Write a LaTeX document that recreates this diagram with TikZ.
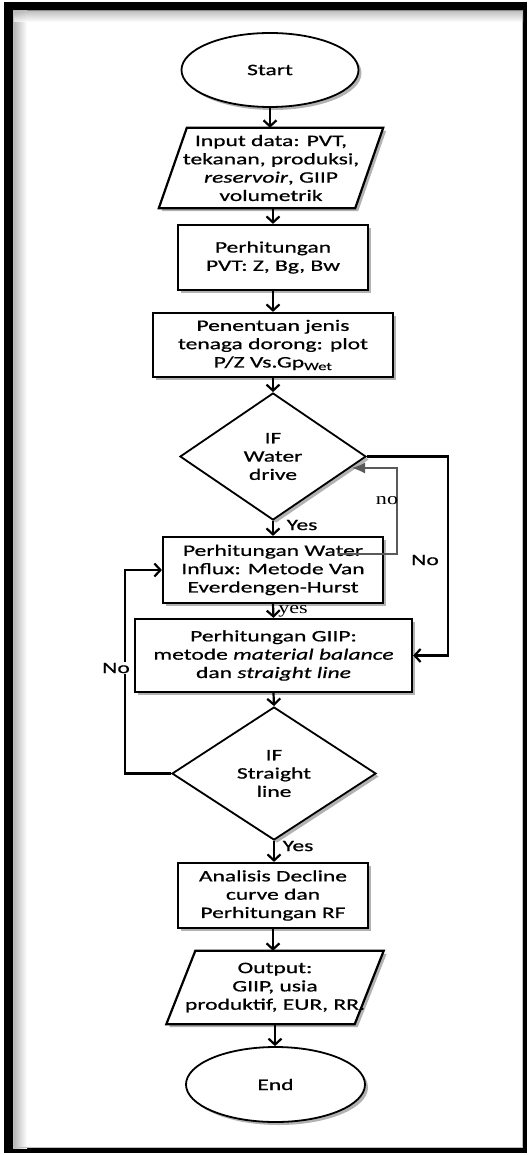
\documentclass[tikz,border=0pt]{standalone}
\usepackage{fontspec}
\setmainfont{Carlito}[FakeStretch=1.47,FakeBold=0.7]
\newfontfamily\serifx{Liberation Serif}[FakeStretch=1.3]
\usetikzlibrary{shapes.geometric,arrows.meta,shadows}
\pgfdeclarelayer{framelayer}
\pgfdeclarelayer{bglayer}
\pgfsetlayers{framelayer,bglayer,main}
\begin{document}
\begin{tikzpicture}[x=1pt,y=-1pt,
  every node/.style={font=\fontsize{16}{18.3}\selectfont, align=center, inner sep=0pt},
  shadowx/.style={drop shadow={shadow xshift=3pt, shadow yshift=-3pt, opacity=0.3, fill=black}},
  boxx/.style={draw, line width=2.2pt, fill=white, rectangle, shadowx},
  ell/.style={draw, line width=1.8pt, fill=white, ellipse, shadowx},
  dia/.style={draw, line width=1.8pt, fill=white, diamond, shadowx},
  paratext/.style={rectangle},
  para/.style={draw, line width=2.2pt, fill=white, line join=miter, shadowx},
  arr/.style={line width=2.2pt, -{Straight Barb[length=6pt,width=13pt]}},
  garr/.style={draw=black!65, line width=1.4pt, -{Latex[length=13pt,width=11pt]}},
  lbl/.style={font=\fontsize{16}{18.3}\selectfont},
  slbl/.style={font=\serifx\fontsize{17}{18}\selectfont},
]
\useasboundingbox (0,0) rectangle (528,1155);
\begin{pgfonlayer}{framelayer}
  \fill[black] (4,2) rectangle (527,1153);
  \fill[white] (13,11) rectangle (523,1148);
  \shade[left color=black!30, right color=white] (13,11) rectangle (27,1148);
  \shade[top color=black!30, bottom color=white, opacity=0.8] (13,11) rectangle (523,22);
  \draw[black!25, line width=1.2pt] (13.6,11.6) rectangle (522.4,1147.4);
\end{pgfonlayer}

% nodes
\node[ell, minimum width=177pt, minimum height=74pt] (start) at (270,70) {Start};
\node[paratext, minimum width=196pt, minimum height=80pt] (in) at (271,168)
  {Input data: PVT,\\ tekanan, produksi,\\ \textit{reservoir}, GIIP\\ volumetrik};
\node[boxx, minimum width=190pt, minimum height=65pt] (pvt) at (273,257.5)
  {Perhitungan\\ PVT: Z, Bg, Bw};
\node[boxx, minimum width=240pt, minimum height=64pt] (pen) at (273,345)
  {Penentuan jenis\\ tenaga dorong: plot\\ P/Z Vs.Gp\textsubscript{Wet}};
\node[dia, minimum width=186pt, minimum height=127pt] (wd) at (273,456.5)
  {IF\\ Water\\ drive};
\node[boxx, minimum width=220pt, minimum height=66pt] (inf) at (273,570)
  {Perhitungan Water\\ Influx: Metode Van\\ Everdengen-Hurst};
\node[boxx, minimum width=277pt, minimum height=73pt] (giip) at (273.5,655.5)
  {Perhitungan GIIP:\\ metode \textit{material balance}\\ dan \textit{straight line}};
\node[dia, minimum width=204pt, minimum height=133pt] (sl) at (274,773.5)
  {IF\\ Straight\\ line};
\node[boxx, minimum width=190pt, minimum height=65pt] (an) at (273,895.5)
  {Analisis Decline\\ curve dan\\ Perhitungan RF};
\node[paratext, minimum width=188pt, minimum height=73pt] (out) at (275,987.5)
  {Output:\\ GIIP, usia\\ produktif, EUR, RR.};
\node[ell, minimum width=179pt, minimum height=75pt] (end) at (275.5,1084.5) {End};

% parallelogram outlines
\begin{pgfonlayer}{bglayer}
  \path[para] ([xshift=14pt]in.north west) -- ([xshift=14pt]in.north east)
     -- ([xshift=-14pt]in.south east) -- ([xshift=-14pt]in.south west) -- cycle;
  \path[para] ([xshift=14.5pt]out.north west) -- ([xshift=14.5pt]out.north east)
     -- ([xshift=-14.5pt]out.south east) -- ([xshift=-14.5pt]out.south west) -- cycle;
\end{pgfonlayer}

% main flow
\draw[arr] (start.south) -- (start.south |- in.north);
\draw[arr] (in.south) -- (in.south -| pvt.north) -- (pvt.north);
\draw[arr] (pvt.south) -- (pen.north);
\draw[arr] (pen.south) -- (wd.north);
\draw[arr] (wd.south) -- (inf.north);
\draw[arr] (inf.south) -- (giip.north);
\draw[arr] (giip.south) -- (sl.north);
\draw[arr] (sl.south) -- (sl.south |- an.north);
\draw[arr] (an.south) -- (an.south |- out.north);
\draw[arr] (out.south) -- (out.south |- end.north);

% No branch from water drive
\coordinate (wr) at (448,0);
\draw[arr] (wd.east) -- (wd.east -| wr) -- (wr |- giip.east) -- (giip.east);
% No branch from straight line
\coordinate (sll) at (125,0);
\draw[arr] (sl.west) -- (sl.west -| sll) -- (sll |- inf.west) -- (inf.west);

% gray feedback
\coordinate (g0) at (338,554);
\coordinate (g1) at (397,554);
\coordinate (g2) at (397,468);
\coordinate (g3) at (352,468);
\draw[garr] (g0) -- (g1) -- (g2) -- (g3);

% labels
\node[lbl] (yes1) at (302,525) {Yes};
\node[lbl] (no1) at (425,560) {No};
\node[slbl] (no2) at (387,501) {no};
\node[slbl] (yes2) at (293,611) {yes};
\node[lbl, fill=white, inner sep=0.5pt] (no3) at (116,668) {No};
\node[lbl] (yes3) at (298,846) {Yes};
\end{tikzpicture}
\end{document}
